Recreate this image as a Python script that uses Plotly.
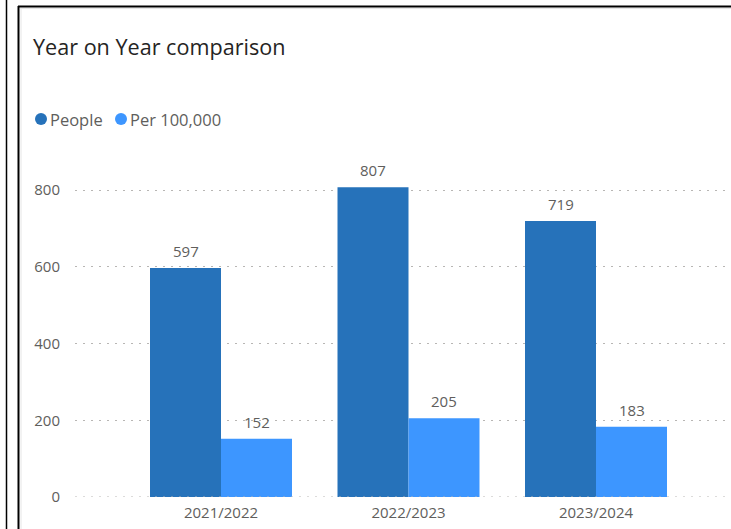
import plotly.graph_objects as go

categories = ["2021/2022", "2022/2023", "2023/2024"]
people = [597, 807, 719]
per_100k = [152, 205, 183]
series_names = ["People", "Per 100,000"]
colors = ["#2672BA", "#3D96FF"]
y_ticks = [0, 200, 400, 600, 800]

W, H = 731, 529
L, R, T, B = 75, 0, 150, 32
pw, ph = W - L - R, H - T - B

def px(x):
    return (x - L) / pw

def py(y):
    return (H - B - y) / ph

FONT = "Segoe UI, Open Sans, Noto Sans, sans-serif"
GREY = "#605E5C"
GRID = "#B8B6B4"
BAR_PX = 71

fig = go.Figure()
annotations = []
series = [people, per_100k]
for j, (name, vals, col) in enumerate(zip(series_names, series, colors)):
    fig.add_trace(go.Bar(
        x=categories, y=vals, name=name, marker=dict(color=col, line=dict(width=0)),
        showlegend=False, hoverinfo="x+y+name",
    ))
    for c, v in zip(categories, vals):
        annotations.append(dict(
            x=c, y=v, xref="x", yref="y", text=str(v), showarrow=False,
            xanchor="center", yanchor="bottom", xshift=(j - 0.5) * BAR_PX, yshift=5,
            font=dict(size=15, color=GREY, family=FONT)))

shapes = []
def line(x0, y0, x1, y1, color="black", width=2):
    shapes.append(dict(type="line", xref="paper", yref="paper",
                       x0=px(x0), y0=py(y0), x1=px(x1), y1=py(y1),
                       line=dict(color=color, width=width), layer="above"))

line(6.5, 0, 6.5, 529, width=1.5)
line(18.5, 6, 18.5, 529, width=2)
line(18, 6.5, 731, 6.5, width=2)
line(21, 8, 21, 529, color="#E6E6E6", width=1)
line(20, 8.5, 731, 8.5, color="#E6E6E6", width=1)

# dotted baseline at zero
shapes.append(dict(type="line", xref="paper", yref="y", x0=0, x1=1, y0=0, y1=0,
                   line=dict(color=GRID, width=1, dash="2px,6px"), layer="above"))

# legend (circle swatch + label)
legend_items = [(41, 51, series_names[0]), (121, 131, series_names[1])]
for (cx, tx, label), col in zip(legend_items, colors):
    r = 6
    shapes.append(dict(type="circle", xref="paper", yref="paper",
                       x0=px(cx - r), x1=px(cx + r), y0=py(119 + r), y1=py(119 - r),
                       fillcolor=col, line=dict(width=0)))
    annotations.append(dict(text=label, xref="paper", yref="paper", x=px(tx - 3), y=py(119),
                            xanchor="left", yanchor="middle", showarrow=False,
                            font=dict(size=16.5, color=GREY, family=FONT)))

annotations.append(dict(text="Year on Year comparison", xref="paper", yref="paper",
                        x=px(31), y=py(47), xanchor="left", yanchor="middle",
                        showarrow=False, font=dict(size=21.6, color="#252423", family=FONT)))

cat_w = 187.5
x_lo = -0.5 - (221 - cat_w / 2 - L) / cat_w
x_hi = x_lo + pw / cat_w
y_hi = ph / (307 / 800)

fig.update_layout(
    width=W, height=H, margin=dict(l=L, r=R, t=T, b=B),
    paper_bgcolor="white", plot_bgcolor="white",
    barmode="group", bargap=1 - 142 / cat_w, bargroupgap=0,
    font=dict(family=FONT, color=GREY, size=15),
    shapes=shapes, annotations=annotations,
    showlegend=False,
    xaxis=dict(range=[x_lo, x_hi], showgrid=False, showline=False, zeroline=False,
               ticks="", ticklabelstandoff=5, tickfont=dict(size=15, color=GREY)),
    yaxis=dict(range=[0, y_hi], tickvals=y_ticks, showgrid=True,
               gridcolor=GRID, griddash="2px,6px", gridwidth=1,
               zeroline=False, showline=False, ticks="", ticklabelstandoff=14,
               tickfont=dict(size=15, color=GREY)),
)

fig.write_html("out.html", config={"displayModeBar": False},
               post_script="document.body.style.margin='0';document.body.style.overflow='hidden';")
